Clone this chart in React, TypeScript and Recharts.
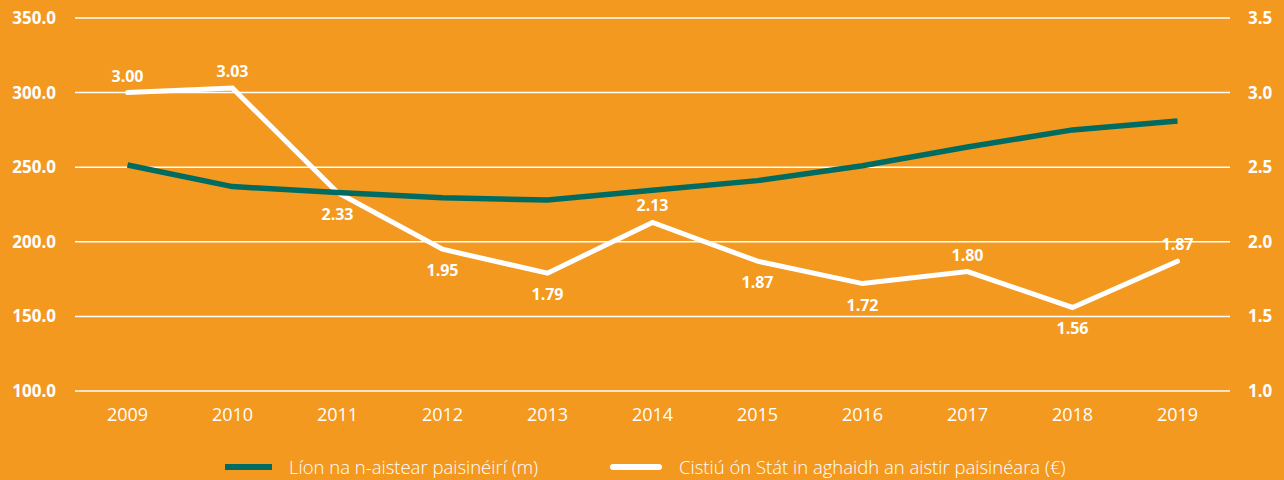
import React from 'react';
import { LineChart, Line, XAxis, YAxis, CartesianGrid, LabelList } from 'recharts';

const years = ['2009', '2010', '2011', '2012', '2013', '2014', '2015', '2016', '2017', '2018', '2019'];
const journeys = [251.5, 237, 233, 229.5, 228, 234.5, 241, 251, 263.5, 275, 281];
const subsidy = [3.0, 3.03, 2.33, 1.95, 1.79, 2.13, 1.87, 1.72, 1.8, 1.56, 1.87];
const leftTicks = [100, 150, 200, 250, 300, 350];
const rightTicks = [1.0, 1.5, 2.0, 2.5, 3.0, 3.5];

const journeysName = 'Líon na n-aistear paisinéirí (m)';
const subsidyName = 'Cistiú ón Stát in aghaidh an aistir paisinéara (€)';

const data = years.map((year, i) => ({ year, journeys: journeys[i], subsidy: subsidy[i] }));

const ORANGE = '#F3991F';
const TEAL = '#006B60';
const FONT = '"Open Sans", sans-serif';

// which subsidy labels sit under the point
const below = new Set([2, 3, 4, 6, 7, 9]);

const SubsidyLabel = (props: any) => {
  const { x, y, index, value } = props;
  const dy = below.has(index) ? 21 : -17;
  return (
    <text x={x} y={y + dy} fill="#fff" fontSize={16} fontWeight={700} fontFamily={FONT}
      textAnchor="middle" dominantBaseline="central">
      {Number(value).toFixed(2)}
    </text>
  );
};

const ChartLegend = () => (
  <div style={{ position: 'absolute', left: 225, top: 454, display: 'flex', fontFamily: FONT, fontSize: 18.5, fontWeight: 300, color: '#fff', whiteSpace: 'nowrap' }}>
    <div style={{ display: 'flex', alignItems: 'center', width: 385 }}>
      <span style={{ display: 'inline-block', width: 47, height: 6, background: TEAL, marginRight: 17 }} />
      {journeysName}
    </div>
    <div style={{ display: 'flex', alignItems: 'center' }}>
      <span style={{ display: 'inline-block', width: 52, height: 6, borderRadius: 3, background: '#fff', marginRight: 17 }} />
      {subsidyName}
    </div>
  </div>
);

export default function App() {
  return (
    <div style={{ position: 'absolute', left: 0, top: 0, width: 1284, height: 480, background: ORANGE }}>
      <LineChart width={1284} height={480} data={data} margin={{ top: 18, right: 0, bottom: 0, left: 0 }}>
        <CartesianGrid stroke="#fff" strokeWidth={1.5} vertical={false} yAxisId="left" />
        <XAxis dataKey="year" axisLine={false} tickLine={false} tickMargin={11} height={89}
          padding={{ left: 52.5, right: 52.5 }}
          tick={{ fill: '#fff', fontSize: 18, fontFamily: FONT, fontWeight: 500 }} />
        <YAxis yAxisId="left" domain={[100, 350]} ticks={leftTicks} width={75} axisLine={false} tickLine={false}
          tickMargin={13} tickFormatter={(v: number) => v.toFixed(1)}
          tick={{ fill: '#fff', fontSize: 17, fontFamily: FONT, fontWeight: 700 }} />
        <YAxis yAxisId="right" orientation="right" domain={[1, 3.5]} ticks={rightTicks} width={54} axisLine={false}
          tickLine={false} tickMargin={12} tickFormatter={(v: number) => v.toFixed(1)}
          tick={{ fill: '#fff', fontSize: 17, fontFamily: FONT, fontWeight: 700 }} />
        <Line yAxisId="right" dataKey="subsidy" name={subsidyName} stroke="#fff" strokeWidth={5}
          dot={false} isAnimationActive={false} strokeLinecap="round">
          <LabelList dataKey="subsidy" content={<SubsidyLabel />} />
        </Line>
        <Line yAxisId="left" dataKey="journeys" name={journeysName} stroke={TEAL} strokeWidth={5.5}
          dot={false} isAnimationActive={false} />
      </LineChart>
      <ChartLegend />
    </div>
  );
}
